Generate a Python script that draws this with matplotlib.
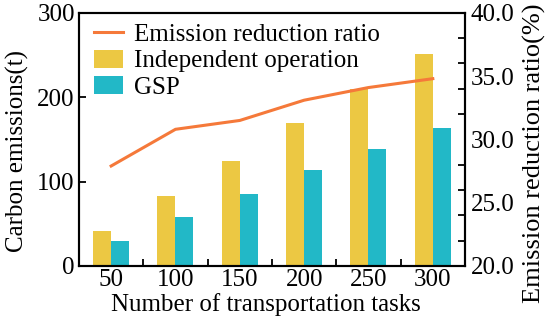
import matplotlib.pyplot as plt
import numpy as np

plt.rcParams['font.family'] = ['Liberation Serif', 'DejaVu Serif']

tasks = ['50', '100', '150', '200', '250', '300']
independent = [41, 83, 124, 169, 210, 251]
gsp = [30, 58, 85, 114, 139, 164]
reduction_ratio = [27.9, 30.8, 31.5, 33.1, 34.1, 34.8]

YELLOW = '#ECC843'
CYAN = '#22B8C7'
ORANGE = '#F5793A'
FS = 18

fig = plt.figure(figsize=(5.5, 3.22), dpi=100)
ax = fig.add_axes([0.1436, 0.174, 0.7018, 0.786])
ax2 = ax.twinx()

x = np.arange(len(tasks))
w = 0.28
b1 = ax.bar(x - w / 2, independent, w, color=YELLOW, label='Independent operation')
b2 = ax.bar(x + w / 2, gsp, w, color=CYAN, label='GSP')
l1, = ax2.plot(x, reduction_ratio, color=ORANGE, lw=2.2, label='Emission reduction ratio')

ax.set_xlim(-0.5, len(tasks) - 0.5)
ax.set_ylim(0, 300)
ax.set_yticks([0, 100, 200, 300])
ax.set_xticks(x)
ax.set_xticklabels(tasks)
ax.set_xticks(x[:-1] + 0.5, minor=True)
ax.tick_params(axis='x', which='major', length=0, labelsize=FS, pad=2)
ax.tick_params(axis='x', which='minor', direction='in', length=5, width=1.3)
ax.tick_params(axis='y', direction='in', length=5, width=1.3, labelsize=FS, pad=3)

ax2.set_ylim(20, 40)
ax2.set_yticks(np.arange(20, 40.1, 5))
ax2.set_yticklabels(['%.1f' % v for v in np.arange(20, 40.1, 5)])
ax2.set_yticks(np.arange(20, 40.1, 2), minor=True)
ax2.tick_params(axis='y', which='major', length=0, labelsize=FS, pad=4)
ax2.tick_params(axis='y', which='minor', direction='in', length=5, width=1.3)

for a in (ax, ax2):
    for s in a.spines.values():
        s.set_linewidth(1.5)

ax.set_xlabel('Number of transportation tasks', fontsize=FS)
ax.xaxis.set_label_coords(0.485, -0.108)
ax.set_ylabel('Carbon emissions(t)', fontsize=FS)
ax.yaxis.set_label_coords(-0.13, 0.455)
ax2.set_ylabel('Emission reduction ratio(%)', fontsize=19)
ax2.yaxis.set_label_coords(1.15, 0.445)

ax2.legend([l1, b1, b2], ['Emission reduction ratio', 'Independent operation', 'GSP'],
           loc='upper left', bbox_to_anchor=(0.02, 0.99), frameon=False,
           fontsize=FS, handlelength=1.15, handleheight=0.75, labelspacing=0.15,
           borderaxespad=0, borderpad=0.3, handletextpad=0.45)

fig.savefig('out.png', dpi=100)
